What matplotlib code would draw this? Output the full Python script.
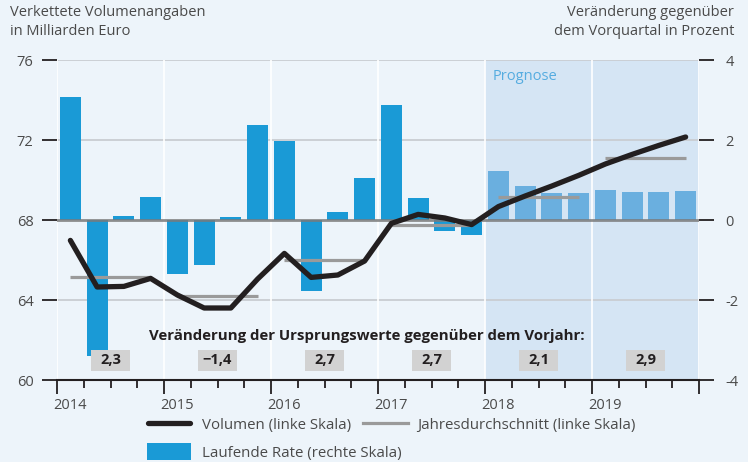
import matplotlib.pyplot as plt
from matplotlib.patches import Rectangle, Patch
from matplotlib.lines import Line2D
from matplotlib.transforms import ScaledTranslation

plt.rcParams['font.family'] = ['Open Sans', 'DejaVu Sans']

# quarters 2014Q1 .. 2019Q4
years = [2014, 2015, 2016, 2017, 2018, 2019]
volumen = [66.98, 64.65, 64.68, 65.08, 64.25, 63.6, 63.6, 65.05,
           66.33, 65.13, 65.25, 65.95, 67.83, 68.28, 68.1, 67.77,
           68.67, 69.2, 69.7, 70.23, 70.8, 71.28, 71.73, 72.15]
rate = [3.07, -3.4, 0.1, 0.57, -1.34, -1.12, 0.07, 2.37,
        1.97, -1.77, 0.2, 1.05, 2.87, 0.55, -0.27, -0.37,
        1.22, 0.85, 0.67, 0.67, 0.75, 0.7, 0.7, 0.72]
jahresschnitt = [65.13, 64.2, 65.98, 67.75, 69.13, 71.12]
vorjahr = ['2,3', '\u22121,4', '2,7', '2,7', '2,1', '2,9']
prognose_ab = 2018

bg = '#edf4fa'
dark = '#231f20'
txt = '#4a4a4a'

x = [y + (q + 0.5) / 4 for y in years for q in range(4)]

fig = plt.figure(figsize=(7.48, 4.62), dpi=100, facecolor=bg)
ax = fig.add_axes([57 / 748, 82 / 462, 642 / 748, 320 / 462])
ax2 = ax.twinx()
ax.set_zorder(ax2.get_zorder() + 1)
ax.patch.set_visible(False)
ax2.set_facecolor(bg)

# background shading and grid (rate axis, behind bars)
ax2.axvspan(prognose_ab, 2020, color='#d5e5f4', zorder=0)
for yv in [-2, 2, 4]:
    ax2.axhline(yv, color='#c9cdd2', lw=1.3, zorder=0.5)
for yr in years + [2020]:
    ax2.axvline(yr, color='white', lw=1.2, zorder=0.6)

cols = ['#6aafdf' if xi >= prognose_ab else '#1a9ad6' for xi in x]
ax2.bar(x, rate, width=0.195, color=cols, zorder=2)
ax2.axhline(0, color='#7a7a7a', lw=2, alpha=0.85, zorder=3)
ax2.set_ylim(-4, 4)
ax2.set_yticks([-4, -2, 0, 2, 4])
ax2.set_yticklabels(['-4', '-2', '0', '2', '4'])

# volume line and annual averages
ax.plot(x, volumen, color=dark, lw=3.8, solid_capstyle='round', zorder=5)
ax.hlines(jahresschnitt, [y + 0.125 for y in years], [y + 0.875 for y in years],
          color='#9a9a9a', lw=2.3, zorder=4)
ax.set_ylim(60, 76)
ax.set_xlim(2014, 2020)
ax.set_yticks([60, 64, 68, 72, 76])

for a in (ax, ax2):
    for s in ['top', 'left', 'right']:
        a.spines[s].set_visible(False)
ax2.spines['bottom'].set_visible(False)
ax.spines['bottom'].set_color(dark)
ax.spines['bottom'].set_linewidth(1.5)

ax.tick_params(axis='y', length=11, width=1.3, color=dark, pad=6,
               labelsize=10.5, labelcolor=txt)
ax2.tick_params(axis='y', length=11, width=1.3, color=dark, pad=8,
                labelsize=10.5, labelcolor=txt)
ax.set_xticks(years + [2020])
ax.set_xticklabels([str(y) for y in years] + [''], ha='left')
ax.set_xticks([y + q / 4 for y in years for q in range(1, 4)], minor=True)
ax.tick_params(axis='x', which='major', length=10, width=1.3, color=dark,
               labelsize=10.5, labelcolor=txt, pad=3)
ax.tick_params(axis='x', which='minor', length=6, width=1.3, color=dark)
shift = ScaledTranslation(-4 / 100, 0, fig.dpi_scale_trans)
for lab in ax.get_xticklabels():
    lab.set_transform(lab.get_transform() + shift)

# forecast label
ax.text(prognose_ab + 0.07, 75.2, 'Prognose', color='#55ace0', fontsize=10.5,
        va='center', ha='left')

# annual change annotation
ax.text(2016.9, 62.2, 'Veränderung der Ursprungswerte gegenüber dem Vorjahr:',
        fontsize=10.8, fontweight='bold', color=dark, ha='center', va='center')
for yr, v in zip(years, vorjahr):
    ax.add_patch(Rectangle((yr + 0.5 - 0.18, 60.47), 0.36, 1.03,
                           facecolor='#d2d2d2', edgecolor='none', zorder=6))
    ax.text(yr + 0.5, 60.98, v, fontsize=10.5, fontweight='bold', color=dark,
            ha='center', va='center', zorder=7)

# axis titles
fig.text(10 / 748, 1 - 5 / 462, 'Verkettete Volumenangaben\nin Milliarden Euro',
         ha='left', va='top', fontsize=10.5, color=txt, linespacing=1.35)
fig.text(734 / 748, 1 - 5 / 462, 'Veränderung gegenüber\ndem Vorquartal in Prozent',
         ha='right', va='top', fontsize=10.5, color=txt, linespacing=1.35)

# legend: three entries placed like the original
entries = [
    (Line2D([], [], color=dark, lw=3.8, solid_capstyle='round'),
     'Volumen (linke Skala)', 148, 425, 2.8, 0.8, 0.7),
    (Line2D([], [], color='#9a9a9a', lw=2.3),
     'Jahresdurchschnitt (linke Skala)', 363, 425, 3.0, 0.6, 0.7),
    (Patch(facecolor='#1a9ad6'),
     'Laufende Rate (rechte Skala)', 147, 452, 2.9, 0.75, 1.37),
]
for h, lab, lx, ly, hl, tp, hh in entries:
    leg = fig.legend([h], [lab], loc='center left',
                     bbox_to_anchor=(lx / 748, 1 - ly / 462), frameon=False,
                     fontsize=10.8, handlelength=hl, handletextpad=tp,
                     handleheight=hh, borderpad=0, borderaxespad=0)
    for t in leg.get_texts():
        t.set_color(txt)

fig.savefig('out.png', dpi=100, facecolor=bg)
